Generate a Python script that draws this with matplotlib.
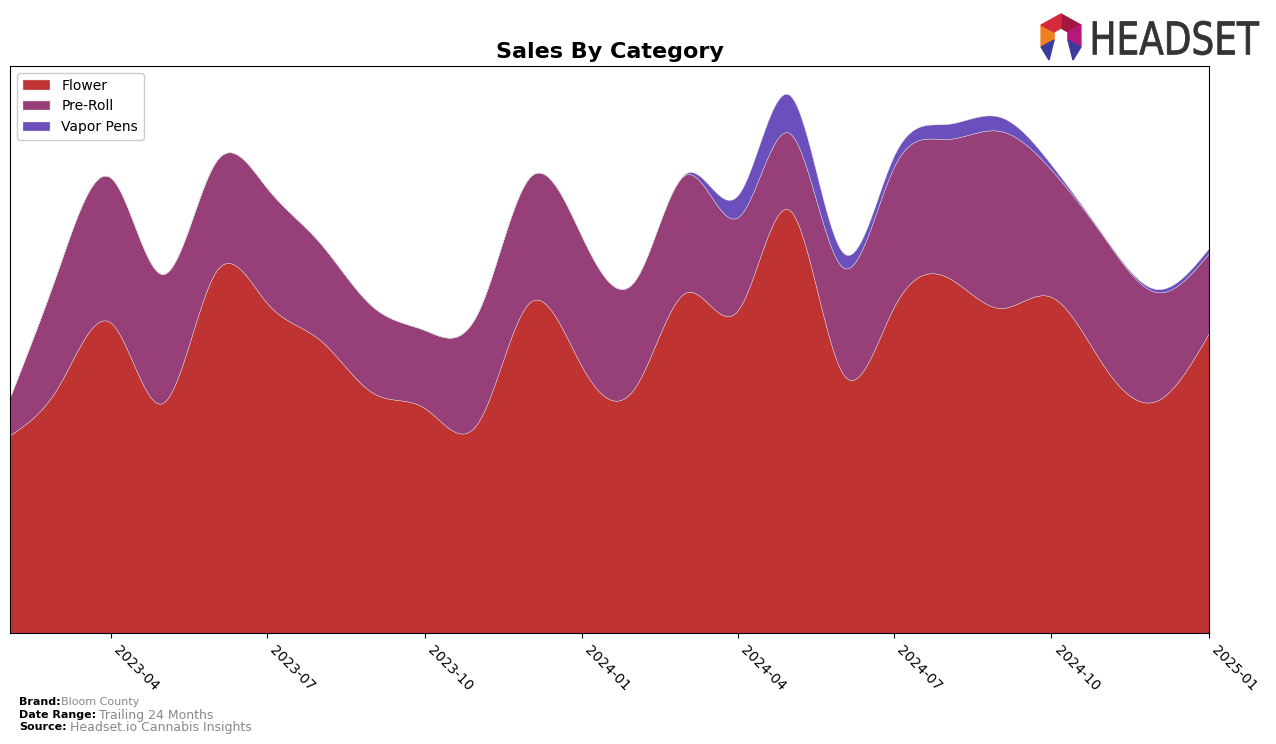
import numpy as np
import pandas as pd
import matplotlib
matplotlib.use("Agg")
import matplotlib.pyplot as plt
import matplotlib.dates as mdates
from matplotlib.patches import Polygon, PathPatch
from matplotlib.textpath import TextPath
from matplotlib.font_manager import FontProperties
from matplotlib.transforms import Affine2D

months = pd.date_range("2023-02-01", "2025-01-01", freq="MS")

flower = [198, 246, 310, 230, 361, 330, 293, 240, 225, 210, 330, 266,
          246, 340, 323, 423, 260, 326, 356, 325, 336, 266, 232, 300]
pre_roll = [38, 117, 145, 129, 110, 115, 97, 86, 78, 110, 125, 130,
            107, 118, 93, 77, 106, 140, 138, 177, 127, 129, 109, 80]
vapor_pens = [0, 0, 0, 0, 0, 0, 0, 0, 0, 0, 0, 0,
              0, 1, 22, 38, 15, 11, 15, 14, 5, 1, 3, 5]

categories = ["Flower", "Pre-Roll", "Vapor Pens"]
colors = ["#c03333", "#963f79", "#6b4fbd"]


def natural_spline(x, y, xs):
    x = np.asarray(x, float)
    y = np.asarray(y, float)
    n = len(x)
    h = np.diff(x)
    A = np.zeros((n, n))
    b = np.zeros(n)
    A[0, 0] = 1
    A[-1, -1] = 1
    for i in range(1, n - 1):
        A[i, i - 1] = h[i - 1]
        A[i, i] = 2 * (h[i - 1] + h[i])
        A[i, i + 1] = h[i]
        b[i] = 6 * ((y[i + 1] - y[i]) / h[i] - (y[i] - y[i - 1]) / h[i - 1])
    M = np.linalg.solve(A, b)
    idx = np.clip(np.searchsorted(x, xs) - 1, 0, n - 2)
    x0, x1 = x[idx], x[idx + 1]
    hh = x1 - x0
    t0 = x1 - xs
    t1 = xs - x0
    return (M[idx] * t0 ** 3 / (6 * hh) + M[idx + 1] * t1 ** 3 / (6 * hh)
            + (y[idx] / hh - M[idx] * hh / 6) * t0
            + (y[idx + 1] / hh - M[idx + 1] * hh / 6) * t1)


xnum = mdates.date2num(months)
xs = np.linspace(xnum[0], xnum[-1], 1500)
series = [np.clip(natural_spline(xnum, s, xs), 0, None)
          for s in (flower, pre_roll, vapor_pens)]

W, H = 1276, 744
fig = plt.figure(figsize=(W / 100, H / 100), dpi=100)
ax = fig.add_axes([10 / W, 1 - 633 / H, 1199 / W, 567 / H])

ax.stackplot(xs, *series, labels=categories, colors=colors,
             edgecolor="#dddddd", linewidth=0.3)

ax.set_xlim(xnum[0], xnum[-1])
ax.set_ylim(0, 567)
ax.set_yticks([])
ax.xaxis.set_major_locator(mdates.MonthLocator(bymonth=[1, 4, 7, 10]))
ax.xaxis.set_major_formatter(mdates.DateFormatter("%Y-%m"))
plt.setp(ax.get_xticklabels(), rotation=-45, ha="left", fontsize=10)

ax.set_title("Sales By Category", fontsize=16, fontweight="bold", pad=6)
ax.legend(loc="upper left", fontsize=10, framealpha=1, borderpad=0.4)


def px(pts):
    return [(x / W, 1 - y / H) for x, y in pts]


# logo text, squeezed into its box
tp = TextPath((0, 0), "HEADSET", size=100, prop=FontProperties(family="DejaVu Sans"))
bb = tp.get_extents()
x0, x1, ytop, ybot = 1093, 1259, 21, 55
sx = (x1 - x0) / W / bb.width
sy = (ybot - ytop) / H / bb.height
tr = Affine2D().translate(-bb.x0, -bb.y0).scale(sx, sy).translate(x0 / W, 1 - ybot / H)
fig.patches.append(PathPatch(tr.transform_path(tp), facecolor="#333333",
                             edgecolor="#333333", lw=0.6,
                             transform=fig.transFigure))

# logo mark: hexagonal ring open at the bottom
cx, cy = 1061, 36
ang = np.deg2rad([90, 30, -30, -90, -150, 150])
outer = [(cx + 23 * np.cos(a), cy - 22 * np.sin(a)) for a in ang]
inner = [(cx + 8 * np.cos(a), cy - 8 * np.sin(a)) for a in ang]
seg_cols = ["#a3173f", "#b8177a", None, None, "#f07f22", "#d42a3a"]
for i, c in enumerate(seg_cols):
    if c is None:
        continue
    j = (i + 1) % 6
    fig.patches.append(Polygon(px([outer[i], outer[j], inner[j], inner[i]]),
                               closed=True, color=c, transform=fig.transFigure))
for poly, c in [([outer[2], inner[2], (1073, 60)], "#3b3b9e"),
                ([outer[4], inner[4], (1049, 60)], "#3b3b9e")]:
    fig.patches.append(Polygon(px(poly), closed=True, color=c,
                               transform=fig.transFigure))

# footer
fig.text(19 / W, 1 - 702 / H, "Brand:", fontsize=8, fontweight="bold", va="center")
fig.text(61 / W, 1 - 702 / H, "Bloom County", fontsize=8, color="#888888", va="center")
fig.text(19 / W, 1 - 715 / H, "Date Range:", fontsize=8, fontweight="bold", va="center")
fig.text(99 / W, 1 - 715 / H, "Trailing 24 Months", fontsize=9, color="#888888", va="center")
fig.text(19 / W, 1 - 727 / H, "Source:", fontsize=8, fontweight="bold", va="center")
fig.text(70 / W, 1 - 727 / H, "Headset.io Cannabis Insights", fontsize=9, color="#888888", va="center")

fig.savefig("out.png", dpi=100)
plt.close(fig)
